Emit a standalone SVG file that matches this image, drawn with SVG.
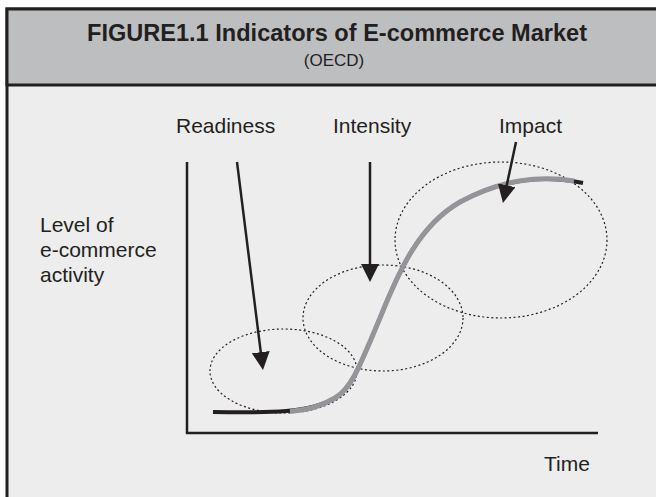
<svg xmlns="http://www.w3.org/2000/svg" width="656" height="497" viewBox="0 0 656 497">
<style>
text{font-family:"Liberation Sans",Arial,sans-serif;fill:#231f20}
.lbl{font-size:21px}
.ell{fill:none;stroke:#231f20;stroke-width:1.2;stroke-dasharray:2 2.5}
.arr{stroke:#231f20;stroke-width:2.5;fill:none;marker-end:url(#ah)}
.axis{stroke:#231f20;stroke-width:2.5;fill:none}
</style>
<defs>
<marker id="ah" markerUnits="userSpaceOnUse" viewBox="0 0 18 18" markerWidth="18" markerHeight="18" refX="14" refY="9" orient="auto">
<path d="M0,0 L18,9 L0,18 z" fill="#231f20"/>
</marker>
</defs>
<rect width="656" height="497" fill="#ffffff"/>
<g id="frame">
<rect x="7" y="9" width="700" height="600" fill="#ededed" stroke="#231f20" stroke-width="3"/>
<rect x="7" y="9" width="700" height="76" fill="#bcbec0" stroke="#231f20" stroke-width="3"/>
</g>
<g id="title">
<text x="337" y="41" font-size="24" font-weight="bold" text-anchor="middle" textLength="500" lengthAdjust="spacingAndGlyphs">FIGURE1.1 Indicators of E-commerce Market</text>
<text x="334" y="66" font-size="17" text-anchor="middle">(OECD)</text>
</g>
<g id="axes">
<path class="axis" d="M187,162 L187,433 L598,433"/>
</g>
<g id="y-label">
<text class="lbl" x="40" y="232">Level of</text>
<text class="lbl" x="40" y="257">e-commerce</text>
<text class="lbl" x="40" y="282">activity</text>
</g>
<g id="x-label"><text class="lbl" x="544" y="471">Time</text></g>
<g id="readiness">
<text class="lbl" x="176" y="133">Readiness</text>
<ellipse class="ell" cx="283.5" cy="371" rx="73.5" ry="42"/>
</g>
<g id="intensity">
<text class="lbl" x="333" y="133">Intensity</text>
<ellipse class="ell" cx="383" cy="318" rx="80" ry="53"/>
</g>
<g id="impact">
<text class="lbl" x="499" y="133">Impact</text>
<ellipse class="ell" cx="501" cy="240" rx="106" ry="78"/>
</g>
<g id="curve">
<path d="M213,412 C270,413 310,413 335,398 C352,388 360,365 380,318 C400,268 420,225 460,202 C500,180 540,174 583,183" fill="none" stroke="#231f20" stroke-width="4"/>
<path d="M290,411.5 C310,410 325,404 335,398 C352,388 360,365 380,318 C400,268 420,225 460,202 C500,180 540,175 574,181" fill="none" stroke="#939598" stroke-width="5"/>
</g>
<g id="connectors">
<line class="arr" x1="237" y1="162" x2="262.5" y2="366"/>
<line class="arr" x1="370" y1="162" x2="370" y2="278"/>
<line class="arr" x1="516" y1="142" x2="503.8" y2="199"/>
</g>
</svg>
